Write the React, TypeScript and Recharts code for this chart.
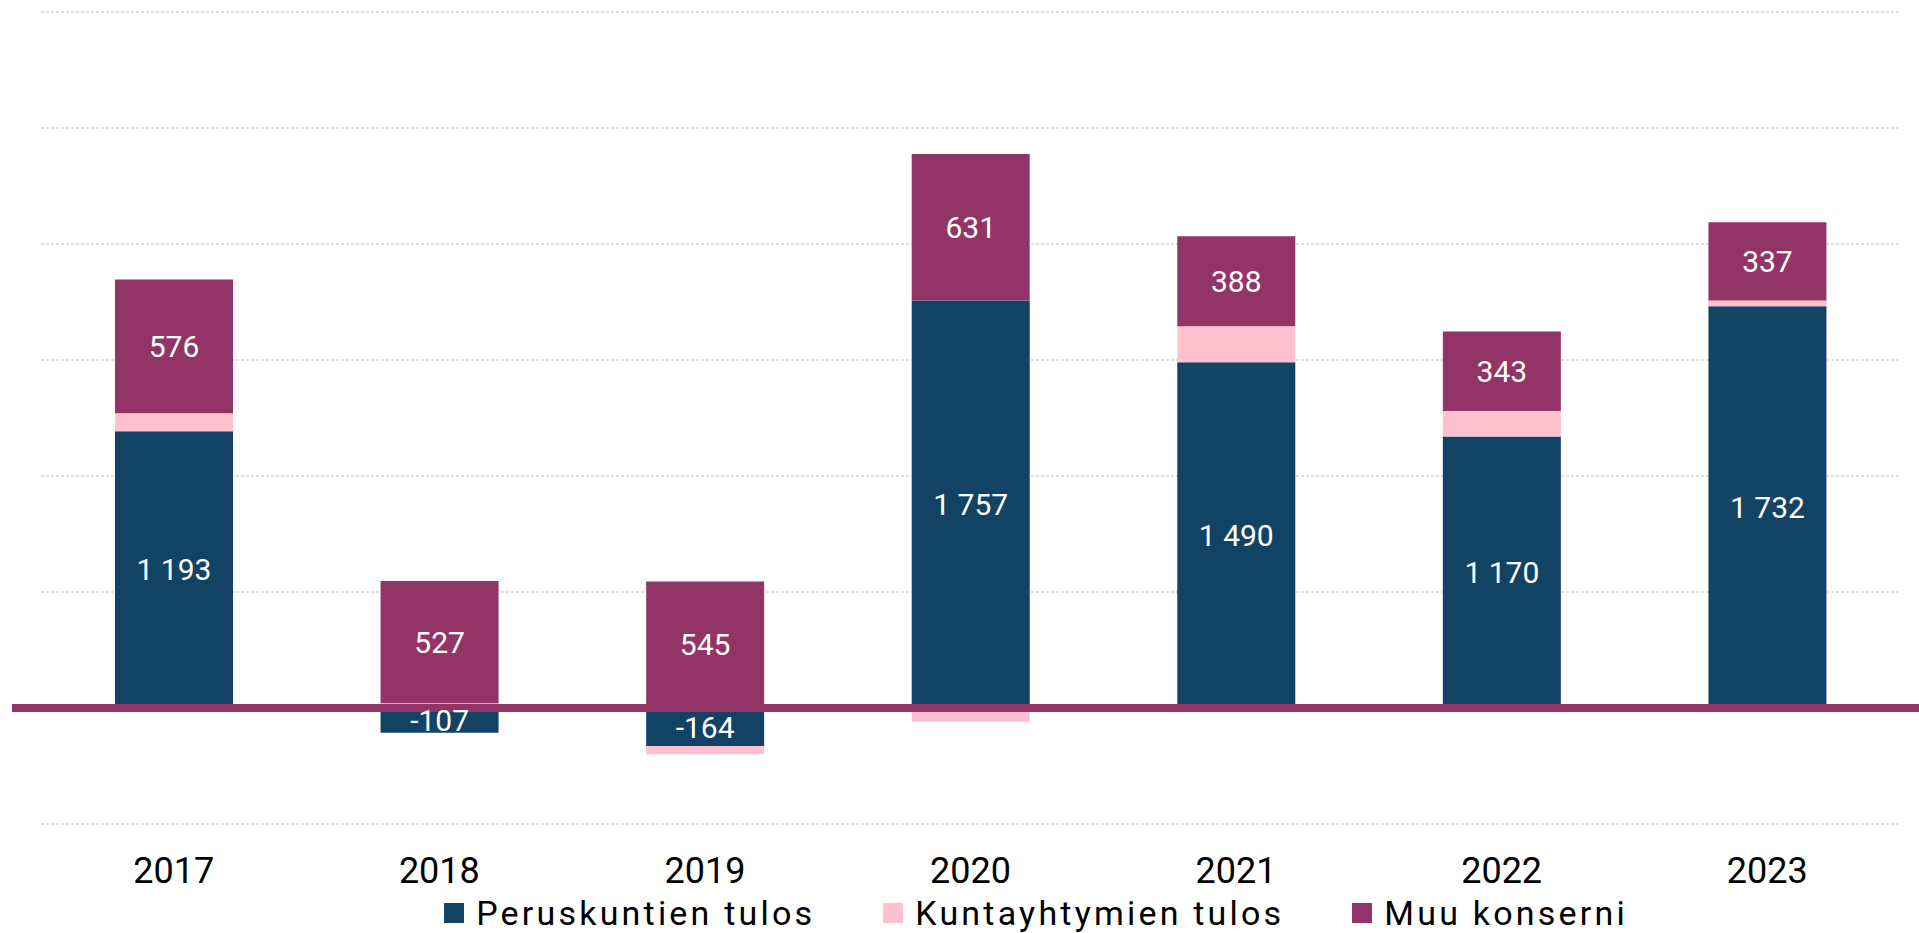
import {
  BarChart,
  Bar,
  XAxis,
  YAxis,
  CartesianGrid,
  ReferenceLine,
  Legend,
  LabelList,
} from "recharts";

const years = ["2017", "2018", "2019", "2020", "2021", "2022", "2023"];
const peruskunnat = [1193, -107, -164, 1757, 1490, 1170, 1732];
const kuntayhtymat = [78, 20, -35, -59, 155, 110, 25];
const muuKonserni = [576, 527, 545, 631, 388, 343, 337];
const yTicks = [-500, 0, 500, 1000, 1500, 2000, 2500, 3000];
const seriesNames = ["Peruskuntien tulos", "Kuntayhtymien tulos", "Muu konserni"];

const data = years.map((year, i) => ({
  year,
  peruskunnat: peruskunnat[i],
  kuntayhtymat: kuntayhtymat[i],
  muu: muuKonserni[i],
}));

const BLUE = "#124365";
const PINK = "#FFC0CF";
const PURPLE = "#933467";
const seriesColors = [BLUE, PINK, PURPLE];
const FONT = "Roboto, 'Open Sans', sans-serif";

const fmt = (v: any) => {
  const n = Number(v);
  const s = Math.abs(n).toString().replace(/\B(?=(\d{3})+(?!\d))/g, " ");
  return (n < 0 ? "-" : "") + s;
};

// own legend so the order stays as in the source
const LegendContent = () => (
  <div
    style={{
      display: "flex",
      justifyContent: "center",
      alignItems: "center",
      height: 40,
      paddingLeft: 153,
      boxSizing: "border-box",
      fontFamily: FONT,
      fontSize: 34,
      letterSpacing: 3.2,
      color: "#000",
    }}
  >
    {seriesNames.map((name, i) => (
      <div key={name} style={{ display: "flex", alignItems: "center", marginLeft: i ? 68 : 0 }}>
        <span style={{ width: 20, height: 20, background: seriesColors[i], marginRight: 12, display: "inline-block" }} />
        <span>{name}</span>
      </div>
    ))}
  </div>
);

const ZeroLine = (p: any) => (
  <line x1={p.x1 - 29} y1={p.y1} x2={p.x2 + 19} y2={p.y2} stroke={PURPLE} strokeWidth={8} />
);

const App = () => (
  <div style={{ position: "absolute", left: 0, top: 0, fontFamily: FONT, background: "#fff" }}>
    <BarChart
      width={1919}
      height={933}
      data={data}
      stackOffset="sign"
      margin={{ top: 12, right: 19, left: 41, bottom: 0 }}
      barSize={118}
    >
      <CartesianGrid vertical={false} stroke="#bfbfbf" strokeDasharray="3 2" />
      <XAxis
        dataKey="year"
        axisLine={false}
        tickLine={false}
        tickSize={0}
        tickMargin={33}
        height={69}
        tick={{ fill: "#000", fontSize: 36, fontFamily: FONT }}
      />
      <YAxis hide domain={[-500, 3000]} ticks={yTicks} />
      <Legend verticalAlign="bottom" wrapperStyle={{ left: 0, width: 1919 }} content={<LegendContent />} />
      <Bar dataKey="peruskunnat" name={seriesNames[0]} stackId="a" fill={BLUE} isAnimationActive={false}>
        <LabelList dataKey="peruskunnat" position="center" formatter={fmt} fill="#fff" fontSize={30} fontFamily={FONT} />
      </Bar>
      <Bar dataKey="kuntayhtymat" name={seriesNames[1]} stackId="a" fill={PINK} isAnimationActive={false} />
      <Bar dataKey="muu" name={seriesNames[2]} stackId="a" fill={PURPLE} isAnimationActive={false}>
        <LabelList dataKey="muu" position="center" formatter={fmt} fill="#fff" fontSize={30} fontFamily={FONT} />
      </Bar>
      <ReferenceLine y={0} shape={<ZeroLine />} ifOverflow="visible" />
    </BarChart>
  </div>
);

export default App;
